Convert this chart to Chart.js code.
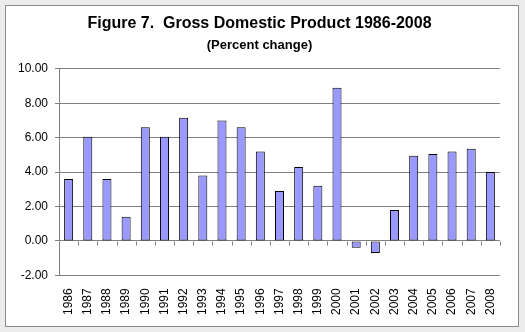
<!DOCTYPE html>
<html>
<head>
<meta charset="utf-8">
<script src="https://cdn.jsdelivr.net/npm/chart.js@4/dist/chart.umd.min.js"></script>
<style>
  html, body { margin: 0; padding: 0; background: #ececec; }
  #panel {
    position: absolute; left: 5px; top: 5px;
    width: 512px; height: 320px;
    background: #fff; border: 1px solid #8c8c8c;
  }
  #gdpChart { display: block; }
</style>
</head>
<body>
<div id="panel">
  <canvas id="gdpChart" width="512" height="320"></canvas>
</div>
<script>
// GDP growth, percent change by year
var years = ['1986', '1987', '1988', '1989', '1990', '1991', '1992', '1993',
             '1994', '1995', '1996', '1997', '1998', '1999', '2000', '2001',
             '2002', '2003', '2004', '2005', '2006', '2007', '2008'];
var gdpChange = [3.6, 6.05, 3.6, 1.4, 6.6, 6.05, 7.15, 3.8,
                 7.0, 6.6, 5.2, 2.9, 4.3, 3.2, 8.9, -0.4,
                 -0.7, 1.8, 4.95, 5.05, 5.2, 5.35, 4.0];
var yTicks = [-2, 0, 2, 4, 6, 8, 10];

var gridGray = '#808080';
var fontFamily = '"Liberation Sans", Arial, sans-serif';

// short tick marks along the zero line, between the categories
var zeroTicks = {
    id: 'zeroTicks',
    afterDatasetsDraw: function(chart) {
        var x = chart.scales.x, y = chart.scales.y, ctx = chart.ctx;
        var y0 = Math.round(y.getPixelForValue(0)) + 0.5;
        ctx.save();
        ctx.strokeStyle = gridGray;
        ctx.lineWidth = 1;
        ctx.beginPath();
        for (var i = 0; i <= years.length; i++) {
            var px = Math.round(x.getPixelForValue(i - 0.5)) + 0.5;
            ctx.moveTo(px, y0);
            ctx.lineTo(px, y0 + 4);
        }
        ctx.stroke();
        ctx.restore();
    }
};

var ctx = document.getElementById('gdpChart').getContext('2d');
var chart = new Chart(ctx, {
    type: 'bar',
    data: {
        labels: years,
        datasets: [{
            label: 'GDP',
            data: gdpChange,
            backgroundColor: '#9999ff',
            borderColor: '#000000',
            borderWidth: 1,
            borderSkipped: false,
            categoryPercentage: 1,
            barPercentage: 0.47
        }]
    },
    options: {
        responsive: false,
        animation: false,
        layout: { padding: { left: 5, right: 10, top: 0, bottom: -2 } },
        plugins: {
            legend: { display: false },
            tooltip: { enabled: false },
            title: {
                display: true,
                text: 'Figure 7.  Gross Domestic Product 1986-2008',
                color: '#000',
                font: { family: fontFamily, size: 16, weight: 'bold' },
                padding: { top: 8, bottom: 2 }
            },
            subtitle: {
                display: true,
                text: '(Percent change)',
                color: '#000',
                font: { family: fontFamily, size: 13, weight: 'bold' },
                padding: { top: 2, bottom: 16 }
            }
        },
        scales: {
            x: {
                grid: { display: false, drawTicks: false, tickLength: 0 },
                border: { display: false },
                ticks: {
                    color: '#000',
                    font: { family: fontFamily, size: 12 },
                    minRotation: 90,
                    maxRotation: 90,
                    padding: 13,
                    autoSkip: false
                }
            },
            y: {
                min: -2,
                max: 10,
                afterBuildTicks: function(scale) {
                    scale.ticks = yTicks.map(function(v) { return { value: v }; });
                },
                grid: { color: gridGray, tickLength: 4 },
                border: { color: gridGray },
                ticks: {
                    color: '#000',
                    font: { family: fontFamily, size: 12 },
                    padding: 7,
                    callback: function(v) { return v.toFixed(2); }
                }
            }
        }
    },
    plugins: [zeroTicks]
});
</script>
</body>
</html>
